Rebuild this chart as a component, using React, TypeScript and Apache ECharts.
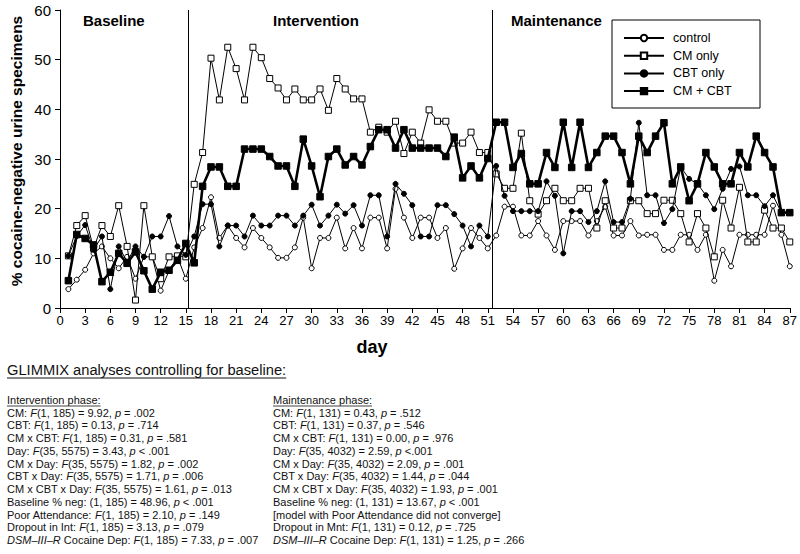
import React, { useEffect, useRef } from "react";
import * as echarts from "echarts";

const FONT = "Arial, 'Liberation Sans', Helvetica, sans-serif";

const days = Array.from({ length: 87 }, (_, i) => i + 1);

const control = [
  3.8, 5.7, 7.7, 11, 12.4, 10, 8, 10.3, 5.9, 10.3, 10.3, 3.5, 7.5, 10.3, 5.9,
  12.2, 16.1, 22.3, 14.1, 16.6, 14.1, 12.2, 16.1, 14.1, 12.2, 10.1, 10.1, 12.2, 18.2, 8, 14.1, 14.1, 18.2,
  12, 16.1, 12, 18.2, 18.2, 12, 24, 18.2, 14.1, 18.2, 18.2, 14.1, 16.1, 7.9, 12, 16.1, 14.1, 12,
  14.6, 20.4, 20.4, 14.6, 14.6, 17.5, 14.6, 11.7, 17.5, 17.5, 17.5, 14.6, 17.5, 20.4, 14.6, 14.6, 17.5, 14.6,
  14.75, 14.75, 11.7, 11.7, 14.75, 14.75, 11.7, 14.75, 5.5, 11.7, 8.4, 14.75, 14.75, 14.75, 14.75, 20.6, 14.75, 8.4,
];

const cmOnly = [
  10.5, 16.6, 18.6, 12, 16.6, 14.4, 20.6, 12.4, 1.6, 20.6, 10.3, 5.9, 10.3, 10.5, 10.3,
  24.9, 31.3, 50.3, 41.9, 52.5, 48.2, 41.9, 52.5, 50.4, 46.2, 44.3, 41.9, 44.1, 41.9, 41.9, 44.1, 39.8, 46.2,
  44.1, 42.1, 42.1, 35.4, 36.4, 35.4, 37.6, 31.1, 35.4, 33.2, 39.9, 37.6, 37.6, 33.2, 33.2, 35.4, 31.3, 31.3,
  27, 24.1, 24.1, 35.2, 21.6, 18.9, 21.6, 24.1, 21.6, 21.6, 24.1, 24.1, 16.1, 21.6, 16.1, 16.1, 21.6, 21.6,
  19, 19, 21.7, 21.7, 19, 13.3, 19, 16.1, 10.3, 21.7, 16.1, 24.3, 13.3, 13.3, 19.7, 16.1, 16.1, 13.3,
];

const cbtOnly = [
  10.5, 14.5, 16.7, 11.7, 14.4, 3.8, 12.4, 9.3, 12.4, 10.3, 14.4, 14.4, 18.5, 12.4, 10.7,
  14.4, 20.9, 20.9, 12.4, 16.6, 16.6, 14.4, 18.6, 16.6, 16.6, 18.6, 18.6, 16.6, 18.6, 20.8, 16.6, 18.6, 20.8,
  19, 20.7, 16.6, 22.7, 22.7, 14.4, 25, 23, 20.7, 14.4, 14.4, 20.7, 20.7, 18.9, 16.6, 12.4, 16.6, 14.4,
  28.6, 22.6, 19.5, 19.5, 19.5, 19.5, 25.5, 22.6, 11, 19.5, 19.5, 17.3, 19.5, 25.5, 17.3, 17.3, 22, 37.3,
  22.7, 22.7, 17.1, 19.9, 28.4, 26, 25, 22.7, 19.9, 24, 28, 28.5, 22.7, 22.7, 20.5, 22.7, 19.2, 19.2,
];

const cmCbt = [
  5.5, 14.8, 14, 12.7, 5.3, 7.2, 11, 9, 11.3, 7.5, 3.8, 7.2, 7.6, 9.6, 13,
  9.1, 24.5, 28.4, 28.4, 24.5, 24.5, 32, 32, 32, 30.5, 28.6, 28.6, 24.5, 34, 28.6, 22.4, 30.5, 32,
  28.8, 30.5, 28.8, 32.5, 35.9, 35.9, 32.2, 35.9, 32.2, 32.2, 32.2, 32.2, 30.5, 34.4, 26.2, 28.6, 26.2, 30.1,
  37.4, 37.4, 28.3, 31.1, 25, 25, 31.3, 28.3, 37.4, 28.3, 37.4, 28.3, 31.3, 34.6, 34.6, 31.3, 25, 34.6,
  31.3, 34.6, 37.3, 25, 28.4, 21.6, 25, 31.3, 28.4, 25, 25, 31.3, 28.4, 34.6, 31.3, 28.4, 19.2, 19.2,
];

const seriesNames = ["control", "CM only", "CBT only", "CM + CBT"];
const phaseBoundaries = [15.3, 51.5];
const phaseLabels = ["Baseline", "Intervention", "Maintenance"];
const yAxisTitle = "% cocaine-negative urine specimens";
const xAxisTitle = "day";
const analysisTitle = "GLIMMIX analyses controlling for baseline:";

const interventionHeading = "Intervention phase:";
const interventionLines = [
  "CM: {i|F}(1, 185) = 9.92, {i|p} = .002",
  "CBT: {i|F}(1, 185) = 0.13, {i|p} = .714",
  "CM x CBT: {i|F}(1, 185) = 0.31, {i|p} = .581",
  "Day: {i|F}(35, 5575) = 3.43, {i|p} < .001",
  "CM x Day: {i|F}(35, 5575) = 1.82, {i|p} = .002",
  "CBT x Day: {i|F}(35, 5575) = 1.71, {i|p} = .006",
  "CM x CBT x Day: {i|F}(35, 5575) = 1.61, {i|p} = .013",
  "Baseline % neg: (1, 185) = 48.96, {i|p} < .001",
  "Poor Attendance: {i|F}(1, 185) = 2.10, {i|p} = .149",
  "Dropout in Int: {i|F}(1, 185) = 3.13, {i|p} = .079",
  "{i|DSM–III–R} Cocaine Dep: {i|F}(1, 185) = 7.33, {i|p} = .007",
];

const maintenanceHeading = "Maintenance phase:";
const maintenanceLines = [
  "CM: {i|F}(1, 131) = 0.43, {i|p} = .512",
  "CBT: {i|F}(1, 131) = 0.37, {i|p} = .546",
  "CM x CBT: {i|F}(1, 131) = 0.00, {i|p} = .976",
  "Day: {i|F}(35, 4032) = 2.59, {i|p} <.001",
  "CM x Day: {i|F}(35, 4032) = 2.09, {i|p} = .001",
  "CBT x Day: {i|F}(35, 4032) = 1.44, {i|p} = .044",
  "CM x CBT x Day: {i|F}(35, 4032) = 1.93, {i|p} = .001",
  "Baseline % neg: (1, 131) = 13.67, {i|p} < .001",
  "[model with Poor Attendance did not converge]",
  "Dropout in Mnt: {i|F}(1, 131) = 0.12, {i|p} = .725",
  "{i|DSM–III–R} Cocaine Dep: {i|F}(1, 131) = 1.25, {i|p} = .266",
];

function measure(text: string, font: string): number {
  const ctx = document.createElement("canvas").getContext("2d");
  if (!ctx) return text.length * 6;
  ctx.font = font;
  return ctx.measureText(text).width;
}

export default function App() {
  const ref = useRef<HTMLDivElement>(null);

  useEffect(() => {
    document.body.style.margin = "0";
    if (!ref.current) return;
    const chart = echarts.init(ref.current, undefined, { renderer: "svg" });

    const seriesData = [control, cmOnly, cbtOnly, cmCbt];
    const symbols = ["circle", "rect", "circle", "rect"];
    const sizes = [5, 6, 5, 6.5];
    const fills = ["#fff", "#fff", "#000", "#000"];
    const widths = [1, 1, 1, 2.6];

    const series: any[] = seriesData.map((vals, k) => ({
      name: seriesNames[k],
      type: "line",
      data: days.map((d, i) => [d, vals[i]]),
      symbol: symbols[k],
      symbolSize: sizes[k],
      showAllSymbol: true,
      lineStyle: { color: "#000", width: widths[k] },
      itemStyle: { color: fills[k], borderColor: "#000", borderWidth: 1 },
      emphasis: { disabled: true },
      z: 2 + k,
    }));
    series[0].markLine = {
      silent: true,
      symbol: ["none", "none"],
      label: { show: false },
      lineStyle: { color: "#000", width: 1, type: "solid" },
      data: phaseBoundaries.map((x) => ({ xAxis: x })),
    };

    const smallFont = 11;
    const headFont = `${smallFont}px ${FONT}`;
    const lineGap = 12.73;
    const col1X = 7;
    const col2X = 273;
    const blockTop = 400;
    const rich = {
      i: { fontStyle: "italic", fontSize: smallFont, fontFamily: FONT, fill: "#111" },
    };

    const textEl = (x: number, y: number, text: string, extra: any = {}, rot = 0) => ({
      type: "text",
      x,
      y,
      rotation: rot,
      style: {
        text,
        fontSize: smallFont,
        fontFamily: FONT,
        fill: "#111",
        verticalAlign: "middle",
        textAlign: "left",
        rich,
        ...extra,
      },
    });

    const underline = (x: number, y: number, w: number, lw = 1) => ({
      type: "line",
      shape: { x1: x, y1: y, x2: x + w, y2: y },
      style: { stroke: "#111", lineWidth: lw },
    });

    const graphics: any[] = [];
    const phaseX = [83, 273, 511];
    phaseLabels.forEach((t, i) => {
      graphics.push(
        textEl(phaseX[i], 20, t, { fontSize: 15, fontWeight: "bold", fill: "#000" })
      );
    });
    graphics.push(
      textEl(372, 347, xAxisTitle, { fontSize: 18, fontWeight: "bold", textAlign: "center", fill: "#000" })
    );
    graphics.push(
      textEl(16, 151, yAxisTitle, { fontSize: 15.5, fontWeight: "bold", textAlign: "center", fill: "#000" }, Math.PI / 2)
    );
    graphics.push({
      type: "rect",
      shape: { x: 612, y: 20, width: 148, height: 88 },
      style: { fill: "none", stroke: "#000", lineWidth: 1 },
    });

    const titleSize = 14.7;
    graphics.push(textEl(col1X, 370, analysisTitle, { fontSize: titleSize }));
    graphics.push(
      underline(col1X, 378, measure(analysisTitle, `${titleSize}px ${FONT}`))
    );

    graphics.push(textEl(col1X, blockTop, interventionHeading));
    graphics.push(underline(col1X, blockTop + 6, measure(interventionHeading, headFont), 0.8));
    interventionLines.forEach((t, i) => {
      graphics.push(textEl(col1X, blockTop + lineGap * (i + 1), t));
    });
    graphics.push(textEl(col2X, blockTop, maintenanceHeading));
    graphics.push(underline(col2X, blockTop + 6, measure(maintenanceHeading, headFont), 0.8));
    maintenanceLines.forEach((t, i) => {
      graphics.push(textEl(col2X, blockTop + lineGap * (i + 1), t));
    });

    chart.setOption({
      animation: false,
      backgroundColor: "#fff",
      textStyle: { fontFamily: FONT },
      grid: { left: 60, right: 8, top: 10, bottom: 246, containLabel: false },
      legend: {
        data: seriesNames,
        orient: "vertical",
        left: 612,
        top: 20,
        padding: [11, 10, 10, 11],
        itemWidth: 40,
        itemHeight: 8,
        itemGap: 3.7,
        selectedMode: false,
        textStyle: { fontSize: 12.5, fontFamily: FONT, color: "#000", lineHeight: 14, padding: [0, 0, 0, 4] },
      },
      xAxis: {
        type: "value",
        min: 0,
        max: 87,
        interval: 3,
        axisLine: { show: true, onZero: false, lineStyle: { color: "#000", width: 1 } },
        axisTick: { show: true, length: 5, lineStyle: { color: "#000" } },
        axisLabel: { fontSize: 13, color: "#000", margin: 6, fontFamily: FONT },
        splitLine: { show: false },
      },
      yAxis: {
        type: "value",
        min: 0,
        max: 60,
        interval: 10,
        axisLine: { show: true, lineStyle: { color: "#000", width: 1 } },
        axisTick: { show: true, length: 5, lineStyle: { color: "#000" } },
        axisLabel: { fontSize: 15, color: "#000", margin: 9, fontFamily: FONT },
        splitLine: { show: false },
      },
      graphic: graphics,
      series,
    });

    return () => chart.dispose();
  }, []);

  return <div ref={ref} style={{ width: 800, height: 554 }} />;
}
